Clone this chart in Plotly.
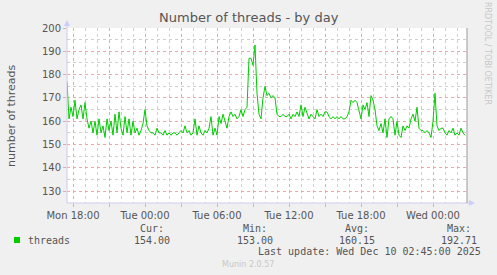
import pandas as pd
import plotly.graph_objects as go

# ---- data (10-minute samples) ----
start_time = "2025-12-08 17:30"
end_time = "2025-12-10 02:50"
threads = [
    177, 161, 166, 162, 169, 161, 165, 167, 161, 168, 161, 157,
    160, 155, 160, 154, 161, 155, 158, 153, 161, 156, 160, 154,
    163, 155, 164, 157, 154, 162, 155, 161, 154, 160, 155, 157,
    154, 156, 159, 165, 158, 156, 155, 155, 154, 157, 155, 155,
    154, 156, 154, 155, 154, 155, 155, 154, 155, 156, 155, 158,
    155, 156, 154, 155, 161, 154, 158, 155, 154, 156, 155, 157,
    162, 154, 157, 154, 162, 159, 163, 160, 157, 162, 164, 162,
    163, 161, 162, 165, 162, 165, 166, 187, 187, 184, 192.71, 172,
    163, 161, 170, 175, 171, 172, 170, 171, 170, 163, 162, 162,
    163, 162, 162, 163, 161, 163, 162, 164, 162, 167, 162, 166,
    163, 161, 163, 162, 161, 165, 162, 163, 162, 164, 164, 162,
    161, 162, 161, 162, 161, 162, 161, 161, 162, 164, 169, 168,
    169, 168, 164, 161, 167, 165, 168, 162, 171, 169, 165, 158,
    156, 159, 155, 161, 153, 161, 162, 161, 154, 160, 154, 153,
    158, 156, 158, 157, 161, 163, 160, 166, 157, 156, 156, 155,
    156, 155, 153, 160, 172, 158, 156, 157, 157, 155, 154, 156,
    155, 157, 154, 155, 154, 157, 155, 154,
]
times = pd.date_range(start_time, periods=len(threads), freq="10min")

y_ticks = [130, 140, 150, 160, 170, 180, 190, 200]
x_tick_vals = pd.date_range("2025-12-08 18:00", "2025-12-10 00:00", freq="3h")
x_tick_text = ["Mon 18:00", "", "Tue 00:00", "", "Tue 06:00", "",
               "Tue 12:00", "", "Tue 18:00", "", "Wed 00:00"]

legend_name = "threads"
stat_labels = ["Cur:", "Min:", "Avg:", "Max:"]
stat_values = ["154.00", "153.00", "160.15", "192.71"]
last_update = "Last update: Wed Dec 10 02:45:00 2025"

# ---- layout geometry (pixels) ----
W, H = 497, 275
L, R, T, B = 67, 467, 28, 203
def px(x):
    return (x - L) / (R - L)
def py(y):
    return (B - y) / (B - T)

RED = "#eca8a8"
GREY = "#cfcfcf"
TXT = "#555555"
MONO = "DejaVu Sans Mono"
SANS = "DejaVu Sans"

fig = go.Figure()
fig.add_trace(go.Scatter(x=times, y=threads, mode="lines",
                         line=dict(color="#00cc00", width=1),
                         name=legend_name, showlegend=False,
                         hoverinfo="skip"))

fig.update_layout(
    width=W, height=H,
    margin=dict(l=L, r=W - R, t=T, b=H - B, pad=0),
    paper_bgcolor="#f0f0f0", plot_bgcolor="#ffffff",
    showlegend=False,
    font=dict(family=SANS, size=10, color=TXT),
)
fig.update_xaxes(
    type="date", range=[start_time, end_time],
    tickmode="array", tickvals=x_tick_vals, ticktext=x_tick_text,
    showgrid=True, gridcolor=RED, griddash="dot", gridwidth=1,
    ticks="outside", ticklen=3, tickcolor=RED,
    tickfont=dict(family=SANS, size=10, color=TXT),
    minor=dict(dtick=3600000, tick0="2025-12-08 18:00", showgrid=True,
               gridcolor=GREY, griddash="dot", gridwidth=1),
    showline=False, zeroline=False, fixedrange=True,
)
fig.update_yaxes(
    range=[124.9, 200], tickmode="array", tickvals=y_ticks,
    showgrid=True, gridcolor=RED, griddash="dot", gridwidth=1,
    ticks="outside", ticklen=3, tickcolor=RED,
    tickfont=dict(family=SANS, size=10, color=TXT),
    minor=dict(dtick=5, tick0=125, showgrid=True, gridcolor=GREY,
               griddash="dot", gridwidth=1),
    showline=False, zeroline=False, fixedrange=True,
)

shapes = []
# left axis with arrow
shapes.append(dict(type="line", xref="paper", yref="paper",
                   x0=px(L), x1=px(L), y0=py(B), y1=py(24),
                   line=dict(color="#ccccee", width=1)))
shapes.append(dict(type="path", xref="paper", yref="paper",
                   path=f"M {px(L-3)},{py(26)} L {px(L+3)},{py(26)} L {px(L)},{py(20)} Z",
                   fillcolor="#ccccff", line=dict(width=0)))
# bottom axis with arrow
shapes.append(dict(type="line", xref="paper", yref="paper",
                   x0=px(L), x1=px(470), y0=py(B), y1=py(B),
                   line=dict(color="#ccccee", width=1)))
shapes.append(dict(type="path", xref="paper", yref="paper",
                   path=f"M {px(469)},{py(B-3)} L {px(469)},{py(B+3)} L {px(475)},{py(B)} Z",
                   fillcolor="#ccccff", line=dict(width=0)))
# right frame
shapes.append(dict(type="line", xref="paper", yref="paper",
                   x0=1, x1=1, y0=0, y1=1,
                   line=dict(color="#999999", width=1)))
# legend swatch
shapes.append(dict(type="rect", xref="paper", yref="paper",
                   x0=px(14), x1=px(20), y0=py(243), y1=py(237),
                   fillcolor="#00cc00", line=dict(width=0)))
fig.update_layout(shapes=shapes)

ann = []
def text(x, y, s, size=10, family=MONO, color=TXT, xanchor="center", angle=0):
    ann.append(dict(x=px(x), y=py(y), xref="paper", yref="paper", text=s,
                    showarrow=False, xanchor=xanchor, yanchor="middle",
                    textangle=angle, font=dict(family=family, size=size, color=color)))

text(248.5, 18, "Number of threads - by day", size=13, family=SANS)
text(11, 115, "number of threads", size=11, family=SANS, angle=-90)
text(488, 53, "RRDTOOL / TOBI OETIKER", size=8, family=SANS, color="#c8c8c8", angle=90)
text(26, 240, legend_name, xanchor="left")
for lab, val, cx in zip(stat_labels, stat_values, [152, 255, 357, 459]):
    text(cx, 228, lab)
    text(cx, 240, val)
text(483, 251.5, last_update, xanchor="right")
text(248, 264, "Munin 2.0.57", size=8, family=SANS, color="#c8c8c8")
fig.update_layout(annotations=ann)

fig.write_html("out.html")
